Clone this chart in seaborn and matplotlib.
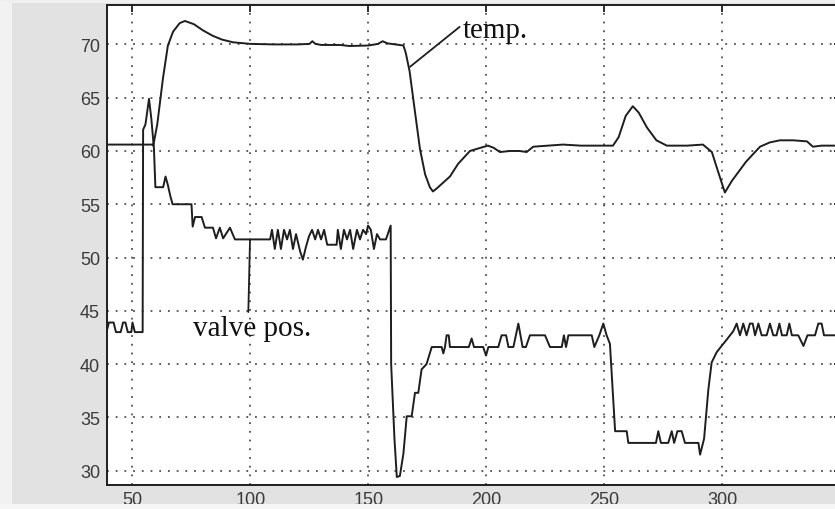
import numpy as np
import pandas as pd
import matplotlib
matplotlib.use("Agg")
import matplotlib.pyplot as plt
import seaborn as sns

# Process temperature trace (time, value)
temp_t = [39, 58.5, 58.8, 60.5, 62.9, 65.0, 67.2, 70, 72.2, 76, 80, 84.1, 88, 92.6,
          100, 110, 120, 125, 126.2, 127.5, 130, 138, 142, 150, 154, 156, 158,
          164.8, 165.8, 167.4, 169.5, 171.8, 174, 176, 177.3, 179, 184.5, 188,
          193, 196, 200.6, 203, 205.7, 210, 214, 217, 219.8, 226, 232.4, 240,
          253.6, 256, 259, 262, 264.5, 268, 272, 276.4, 285, 291.7, 295.5,
          297.5, 301, 304, 310, 315.9, 320, 324.3, 330, 335.8, 338.3, 342, 350]
temp_v = [60.6, 60.6, 60.5, 62.5, 66.8, 69.9, 71.2, 72.0, 72.2, 71.9, 71.3, 70.8,
          70.45, 70.2, 70.05, 70.0, 70.0, 70.05, 70.3, 70.05, 69.95, 69.95, 69.85,
          69.9, 70.05, 70.3, 70.1, 69.9, 69.2, 67.5, 64.0, 60.2, 57.8, 56.6,
          56.2, 56.5, 57.6, 58.8, 60.0, 60.2, 60.5, 60.3, 59.9, 60.0, 60.0, 59.9,
          60.4, 60.5, 60.6, 60.5, 60.5, 61.3, 63.3, 64.2, 63.6, 62.2, 61.0, 60.5,
          60.5, 60.6, 59.9, 58.5, 56.1, 57.2, 59.0, 60.4, 60.8, 61.0, 61.0, 60.9,
          60.4, 60.5, 60.5]

# Valve position trace (time, value)
valve_t = [39, 40, 42, 43, 45, 46, 47, 48, 49.5, 50, 51, 54.3, 54.5, 55.5, 57, 58,
           59.1, 59.7, 63, 64, 65, 66, 67, 75, 75.5, 76.5, 79.3, 80.7, 84.1, 85.4,
           87, 88.4, 91.3, 93.4, 108.3, 109.1, 110.3, 111.6, 112.9, 114.2, 115.5,
           116.7, 118, 119.3, 121, 122.2, 123.5, 124.8, 126.1, 127.4, 128.6, 129.9,
           131.2, 132.5, 136.5, 137, 138.3, 139.6, 140.9, 142.2, 143.5, 145.1,
           146.4, 147.7, 149, 149.8, 151, 152.3, 153.6, 154.9, 157.4, 159.1,
           159.4, 159.6, 161, 162, 163.3, 164.8, 166.2, 168.3, 169.7, 171.1,
           172.5, 174.6, 176.8, 181.0, 181.7, 182.4, 183.1, 184.0, 184.5, 192.5,
           193.7, 194.7, 198.6, 199.8, 200.8, 205.0, 206.4, 208.3, 209.3, 211.4,
           213.5, 215.3, 216.7, 218.4, 224.8, 226.9, 231.9, 232.8, 233.7, 234.7,
           244.6, 245.7, 247.8, 249.5, 250.9, 252.3, 254.5, 259.4, 260.1, 271.8,
           272.8, 273.9, 277.0, 278.5, 279.5, 280.9, 282.7, 284.1, 289.8, 290.5,
           292.2, 294.0, 295.4, 297.5, 299.6, 301.8, 304.6, 306.0, 307.4, 308.8,
           310.2, 311.6, 312.8, 313.8, 315.2, 316.6, 318.7, 320.1, 321.5, 322.9,
           324.1, 325.2, 327.2, 328.3, 329.4, 332.1, 334.3, 336.0, 339.2, 340.6,
           342.0, 343.0, 350]
valve_v = [43.0, 43.9, 43.9, 43.0, 43.0, 43.9, 43.9, 43.0, 43.0, 43.9, 43.0, 43.0,
           62.0, 62.5, 64.9, 63.0, 60.2, 56.6, 56.6, 57.6, 56.8, 55.8, 55.0, 55.0,
           52.9, 53.8, 53.8, 52.8, 52.8, 51.8, 52.8, 51.8, 52.8, 51.7, 51.7, 52.6,
           50.8, 52.6, 50.8, 52.6, 51.7, 52.6, 50.8, 52.2, 50.6, 49.8, 51.0, 52.0,
           52.6, 51.7, 52.6, 51.7, 52.6, 51.2, 51.2, 52.6, 50.8, 52.6, 51.7, 52.6,
           50.8, 52.6, 51.7, 52.6, 52.2, 53.0, 52.6, 50.8, 52.2, 51.7, 51.7, 52.8,
           53.0, 40.0, 33.0, 29.4, 29.5, 31.6, 35.1, 35.1, 37.3, 37.3, 39.5, 40.0,
           41.6, 41.6, 41.0, 41.6, 42.7, 42.7, 41.6, 41.6, 42.4, 41.6, 41.6, 40.8,
           41.6, 41.6, 42.7, 42.7, 41.6, 41.6, 43.8, 41.6, 41.6, 42.7, 42.7, 41.6,
           41.6, 42.7, 41.6, 42.7, 42.7, 41.6, 42.7, 43.8, 42.7, 41.9, 33.7, 33.7,
           32.6, 32.6, 33.7, 32.6, 32.6, 33.7, 32.6, 33.7, 33.7, 32.6, 32.6, 31.5,
           33.0, 37.6, 40.15, 41.1, 41.7, 42.3, 43.1, 43.8, 42.7, 43.8, 42.7, 43.8,
           43.8, 42.7, 43.8, 42.7, 42.7, 43.8, 42.7, 42.7, 43.8, 42.7, 42.7, 43.8,
           42.7, 42.7, 41.7, 42.7, 42.7, 43.8, 43.8, 42.7, 42.7]

x_ticks = [50, 100, 150, 200, 250, 300]
y_ticks = [30, 35, 40, 45, 50, 55, 60, 65, 70]

temp_df = pd.DataFrame({"t": temp_t, "value": temp_v})
valve_df = pd.DataFrame({"t": valve_t, "value": valve_v})

sns.set_style("white")
plt.rcParams["font.family"] = ["Liberation Sans", "DejaVu Sans"]

fig = plt.figure(figsize=(8.35, 5.1), dpi=100, facecolor="#e2e2e2")
# lighter margins around the grey panel
fig.patches.append(plt.Rectangle((0, 0), 12 / 835, 1, transform=fig.transFigure,
                                 facecolor="#f2f2f2", edgecolor="none", zorder=0))
fig.patches.append(plt.Rectangle((0, 0), 1, 5 / 510, transform=fig.transFigure,
                                 facecolor="#f6f6f6", edgecolor="none", zorder=0))
fig.patches.append(plt.Rectangle((0, 1 - 4 / 510), 1, 4 / 510, transform=fig.transFigure,
                                 facecolor="#f0f0f0", edgecolor="none", zorder=0))

ax = fig.add_axes([107 / 835, 24 / 510, (840.5 - 107) / 835, (504 - 24) / 510])
ax.set_facecolor("white")

line_color = "#1e1e1e"
sns.lineplot(data=temp_df, x="t", y="value", ax=ax, estimator=None, sort=False,
             color=line_color, linewidth=1.4)
sns.lineplot(data=valve_df, x="t", y="value", ax=ax, estimator=None, sort=False,
             color=line_color, linewidth=1.4)

ax.set_xlim(39.2, 350)
ax.set_ylim(28.65, 73.7)
ax.set_xticks(x_ticks)
ax.set_yticks(y_ticks)
ax.set_xlabel("")
ax.set_ylabel("")

ax.grid(True, color="#333333", linestyle=(0, (1.2, 4.5)), linewidth=1.1)
ax.tick_params(direction="in", length=5, width=1.3, colors="#1e1e1e",
               labelcolor="#3a3a3a", labelsize=13, top=True, right=True)
ax.tick_params(axis="y", pad=5)
ax.tick_params(axis="x", pad=4)
for s in ax.spines.values():
    s.set_color("#1e1e1e")
    s.set_linewidth(1.4)

# labels for the two traces
serif = ["Liberation Serif", "DejaVu Serif"]
ax.annotate("temp.", xy=(167.6, 67.9), xytext=(190.0, 70.7),
            fontsize=21, family=serif, color="#111111", ha="left", va="baseline",
            arrowprops=dict(arrowstyle="-", color=line_color, lw=1.3,
                            shrinkA=0, shrinkB=0, relpos=(0, 0.72)))
ax.annotate("valve pos.", xy=(99.8, 51.7), xytext=(75.5, 42.7),
            fontsize=21, family=serif, color="#111111", ha="left", va="baseline",
            arrowprops=dict(arrowstyle="-", color=line_color, lw=1.3,
                            shrinkA=0, shrinkB=0, relpos=(0.47, 1.0)))

fig.savefig("out.png", dpi=100, facecolor=fig.get_facecolor())
